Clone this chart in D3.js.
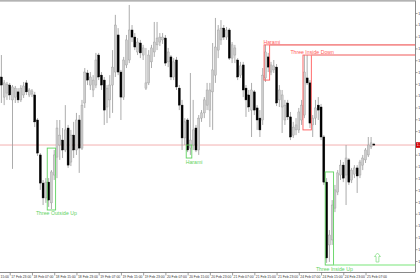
<!DOCTYPE html>
<html lang="en">
<head>
<meta charset="UTF-8" />
<title>EURUSD,H1</title>
<script src="https://cdn.jsdelivr.net/npm/d3@7"></script>
<style>
  body { margin: 0; background: #fff; }
  svg { display: block; font-family: "Liberation Sans", Arial, sans-serif; }
</style>
</head>
<body>
<script>

// hourly candles
var opens = [1.37379,1.37294,1.37311,1.37345,1.37282,1.37294,1.37316,1.37282,1.37303,1.37354,
  1.37303,1.37307,1.37303,1.37197,1.37049,1.36930,1.36867,1.36934,1.36846,1.36964,
  1.37040,1.37091,1.37112,1.37070,1.37163,1.37019,1.37133,1.37070,1.37197,1.37078,
  1.37269,1.37396,1.37345,1.37324,1.37345,1.37472,1.37387,1.37366,1.37252,1.37282,
  1.37345,1.37400,1.37557,1.37400,1.37294,1.37430,1.37451,1.37578,1.37548,1.37485,
  1.37523,1.37472,1.37332,1.37354,1.37443,1.37485,1.37515,1.37527,1.37536,1.37544,
  1.37443,1.37464,1.37379,1.37451,1.37332,1.37260,1.37121,1.37197,1.37078,1.37091,
  1.37163,1.37070,1.37205,1.37227,1.37260,1.37239,1.37316,1.37387,1.37493,1.37536,
  1.37586,1.37548,1.37578,1.37459,1.37472,1.37451,1.37387,1.37430,1.37332,1.37303,
  1.37239,1.37316,1.37248,1.37205,1.37197,1.37375,1.37464,1.37400,1.37409,1.37421,
  1.37282,1.37252,1.37197,1.37269,1.37210,1.37133,1.37155,1.37155,1.37197,1.37218,
  1.37375,1.37354,1.37176,1.37205,1.37260,1.37252,1.37125,1.36934,1.36668,1.36689,
  1.36824,1.36892,1.36964,1.37006,1.36964,1.37028,1.36943,1.36968,1.36994,1.36964,
  1.37006,1.37028,1.37049,1.37083,1.37095];
var highs = [1.37472,1.37366,1.37358,1.37354,1.37345,1.37341,1.37332,1.37345,1.37358,1.37366,
  1.37332,1.37328,1.37316,1.37205,1.37057,1.36943,1.36951,1.36951,1.36985,1.37070,
  1.37197,1.37197,1.37163,1.37260,1.37176,1.37155,1.37189,1.37227,1.37218,1.37282,
  1.37417,1.37409,1.37400,1.37387,1.37481,1.37481,1.37400,1.37379,1.37345,1.37387,
  1.37493,1.37642,1.37586,1.37409,1.37464,1.37557,1.37684,1.37599,1.37565,1.37544,
  1.37536,1.37515,1.37502,1.37493,1.37515,1.37612,1.37612,1.37565,1.37565,1.37557,
  1.37502,1.37472,1.37459,1.37464,1.37345,1.37282,1.37205,1.37205,1.37396,1.37282,
  1.37176,1.37218,1.37239,1.37294,1.37354,1.37354,1.37523,1.37629,1.37599,1.37620,
  1.37599,1.37591,1.37586,1.37527,1.37515,1.37459,1.37443,1.37443,1.37345,1.37324,
  1.37354,1.37324,1.37260,1.37239,1.37417,1.37515,1.37481,1.37443,1.37451,1.37434,
  1.37345,1.37324,1.37282,1.37282,1.37231,1.37189,1.37205,1.37248,1.37282,1.37472,
  1.37472,1.37366,1.37218,1.37282,1.37294,1.37265,1.37133,1.36951,1.36731,1.36858,
  1.36922,1.36985,1.37028,1.37019,1.37091,1.37036,1.36994,1.37006,1.37006,1.37028,
  1.37049,1.37078,1.37125,1.37125,1.37100];
var lows = [1.37269,1.37260,1.37282,1.37282,1.36990,1.37269,1.37269,1.37273,1.37290,1.37303,
  1.37294,1.37294,1.37167,1.37045,1.36901,1.36837,1.36846,1.36829,1.36820,1.36943,
  1.36951,1.37028,1.37036,1.37061,1.36994,1.37002,1.37036,1.37049,1.36973,1.37070,
  1.37248,1.37345,1.37324,1.37294,1.37332,1.37366,1.37324,1.37176,1.37184,1.37205,
  1.37227,1.37379,1.37387,1.37197,1.37282,1.37417,1.37438,1.37527,1.37493,1.37472,
  1.37459,1.37451,1.37324,1.37345,1.37417,1.37464,1.37493,1.37510,1.37519,1.37426,
  1.37421,1.37366,1.37366,1.37324,1.37239,1.37070,1.37091,1.37061,1.37049,1.37070,
  1.37061,1.37049,1.37189,1.37205,1.37239,1.37167,1.37155,1.37354,1.37459,1.37515,
  1.37536,1.37536,1.37451,1.37438,1.37438,1.37366,1.37375,1.37294,1.37210,1.37231,
  1.37125,1.37218,1.37155,1.37125,1.37176,1.37358,1.37400,1.37387,1.37396,1.37256,
  1.37252,1.37142,1.37176,1.37197,1.37112,1.37121,1.37133,1.37142,1.37176,1.37205,
  1.37345,1.37163,1.37125,1.37176,1.37197,1.37112,1.36922,1.36592,1.36596,1.36668,
  1.36807,1.36879,1.36943,1.36934,1.36837,1.36922,1.36930,1.36951,1.36888,1.36951,
  1.36985,1.37015,1.37040,1.37074,1.37087];
var closes = [1.37345,1.37354,1.37349,1.37303,1.37337,1.37332,1.37282,1.37332,1.37341,1.37316,
  1.37324,1.37320,1.37189,1.37057,1.36930,1.36867,1.36934,1.36858,1.36977,1.37049,
  1.37163,1.37133,1.37070,1.37155,1.37006,1.37133,1.37070,1.37197,1.37078,1.37260,
  1.37400,1.37366,1.37379,1.37366,1.37451,1.37379,1.37345,1.37239,1.37332,1.37345,
  1.37421,1.37599,1.37400,1.37294,1.37451,1.37536,1.37578,1.37548,1.37506,1.37527,
  1.37481,1.37502,1.37354,1.37472,1.37502,1.37527,1.37544,1.37548,1.37548,1.37438,
  1.37485,1.37379,1.37443,1.37337,1.37260,1.37121,1.37189,1.37070,1.37112,1.37155,
  1.37070,1.37205,1.37227,1.37282,1.37324,1.37324,1.37409,1.37506,1.37578,1.37586,
  1.37548,1.37578,1.37459,1.37515,1.37502,1.37379,1.37426,1.37324,1.37282,1.37252,
  1.37324,1.37239,1.37197,1.37155,1.37387,1.37485,1.37421,1.37430,1.37426,1.37269,
  1.37324,1.37303,1.37260,1.37210,1.37125,1.37167,1.37176,1.37231,1.37260,1.37400,
  1.37354,1.37184,1.37205,1.37248,1.37239,1.37125,1.36934,1.36613,1.36710,1.36837,
  1.36901,1.36973,1.37006,1.36951,1.37036,1.36934,1.36985,1.36994,1.36960,1.37019,
  1.37036,1.37070,1.37091,1.37100,1.37091];

var priceTicks = [1.3660,1.3665,1.3670,1.3675,1.3680,1.3685,1.3690,1.3695,1.3700,1.3705,1.3710,
  1.3715,1.3720,1.3725,1.3730,1.3735,1.3740,1.3745,1.3750,1.3755,1.3760,1.3765];
var timeBars = [-5,3,11,19,27,35,43,51,59,67,75,83,91,99,107,115,123,131];
var timeLabels = ["17 Feb 15:00","17 Feb 23:00","18 Feb 07:00","18 Feb 15:00","18 Feb 23:00",
  "19 Feb 07:00","19 Feb 15:00","19 Feb 23:00","20 Feb 07:00","20 Feb 15:00","20 Feb 23:00",
  "21 Feb 07:00","21 Feb 15:00","21 Feb 23:00","24 Feb 07:00","24 Feb 15:00","24 Feb 23:00",
  "25 Feb 07:00"];

// candle patterns found by the indicator
var patternNames = ["Three Outside Up","Harami","Harami","Three Inside Down","Three Inside Up"];
var patternFrom = [17, 67, 95, 109, 117];
var patternTo = [19, 68, 96, 111, 119];
var patternTop = [1.37078, 1.37091, 1.37515, 1.37472, 1.36977];
var patternBottom = [1.36816, 1.37036, 1.37366, 1.37155, 1.36583];
var patternBull = [true, true, false, false, true];
var patternOpen = [false, false, true, true, true];

var lastPrice = 1.37091;

var W = 420, H = 280, right = 415, bottom = 272;
var green = "#5fd35f", red = "#ff5c5c";

var svg = d3.select("body").append("svg").attr("width", W).attr("height", H);

var x = d3.scaleLinear().domain([-0.5, 148.8]).range([0, right]);
var y = d3.scaleLinear().domain([1.3765, 1.3660]).range([13, 261]);

svg.append("clipPath").attr("id", "plot")
  .append("rect").attr("x", 0).attr("y", 1).attr("width", right).attr("height", bottom - 1);
var g = svg.append("g").attr("clip-path", "url(#plot)");

var bars = opens.map(function(o, i) {
  return { i: i, o: o, h: highs[i], l: lows[i], c: closes[i] };
});

// bid line
g.append("line")
  .attr("x1", 0).attr("x2", right)
  .attr("y1", y(lastPrice)).attr("y2", y(lastPrice))
  .attr("stroke", "#f3b1b1").attr("stroke-width", 1);

// wicks
g.selectAll("line.wick").data(bars).enter().append("line")
  .attr("class", "wick")
  .attr("x1", function(d) { return x(d.i); })
  .attr("x2", function(d) { return x(d.i); })
  .attr("y1", function(d) { return y(d.h); })
  .attr("y2", function(d) { return y(d.l); })
  .attr("stroke", "#a3a3a3").attr("stroke-width", 0.9);

// bodies
g.selectAll("rect.body").data(bars).enter().append("rect")
  .attr("class", "body")
  .attr("x", function(d) { return x(d.i) - 1; })
  .attr("width", 2)
  .attr("y", function(d) { return y(Math.max(d.o, d.c)); })
  .attr("height", function(d) { return Math.max(Math.abs(y(d.o) - y(d.c)), 0.8); })
  .attr("fill", function(d) { return d.c >= d.o ? "#cdcdcd" : "#000"; })
  .attr("stroke", function(d) { return d.c >= d.o ? "#9a9a9a" : "#000"; })
  .attr("stroke-width", 0.4);

// pattern boxes, extension lines and names
patternNames.forEach(function(name, k) {
  var col = patternBull[k] ? green : red;
  var x0 = x(patternFrom[k]) - 1.4, x1 = x(patternTo[k]) + 1.4;
  var yt = y(patternTop[k]), yb = y(patternBottom[k]);
  g.append("rect")
    .attr("x", x0).attr("y", yt).attr("width", x1 - x0).attr("height", yb - yt)
    .attr("fill", "none").attr("stroke", col).attr("stroke-width", 0.9);
  if (patternOpen[k]) {
    var ly = patternBull[k] ? yb : yt;
    g.append("line")
      .attr("x1", x1).attr("x2", right).attr("y1", ly).attr("y2", ly)
      .attr("stroke", patternBull[k] ? "#a6eea6" : "#f59090").attr("stroke-width", 1.6);
  }
  svg.append("text")
    .attr("x", (x0 + x1) / 2 + 5)
    .attr("y", patternBull[k] ? yb + 5.5 : yt - 1)
    .attr("text-anchor", "middle")
    .attr("font-size", 5.2)
    .attr("fill", col)
    .text(name);
});

// signal arrow after the last bar
var ax = x(135.3), ay = y(patternBottom[4]) - 12;
g.append("path")
  .attr("d", "M" + ax + "," + ay + " l3,3.5 h-1.6 v5.5 h-2.8 v-5.5 h-1.6 z")
  .attr("fill", "#fff").attr("stroke", "#8be08b").attr("stroke-width", 0.8);

// frame
svg.append("line").attr("x1", 0).attr("x2", right + 0.5).attr("y1", 0.8).attr("y2", 0.8)
  .attr("stroke", "#9a9a9a").attr("stroke-width", 1.2);
svg.append("line").attr("x1", right + 0.5).attr("x2", right + 0.5).attr("y1", 0.5).attr("y2", bottom)
  .attr("stroke", "#8a8a8a").attr("stroke-width", 1);
svg.append("line").attr("x1", 0).attr("x2", right + 0.5).attr("y1", bottom + 0.5).attr("y2", bottom + 0.5)
  .attr("stroke", "#8a8a8a").attr("stroke-width", 1);

// price axis; the label under the price tag is left out, as the terminal does
var yAxis = svg.append("g")
  .attr("transform", "translate(" + (right + 0.5) + ",0)")
  .call(d3.axisRight(y).tickValues(priceTicks).tickSize(2).tickPadding(0.8)
    .tickFormat(function(d) {
      return Math.abs(y(d) - y(lastPrice)) < 5 ? "" : d3.format(".4f")(d);
    }));
yAxis.select(".domain").remove();
yAxis.selectAll("line").attr("stroke", "#777").attr("stroke-width", 0.7);
yAxis.selectAll("text").attr("font-size", 3.6).attr("fill", "#333")
  .attr("font-family", "Liberation Sans, Arial, sans-serif");

// current price tag
svg.append("rect")
  .attr("x", right + 1).attr("y", y(lastPrice) - 2.8).attr("width", 6).attr("height", 5.6)
  .attr("fill", "#d40000");
svg.append("text")
  .attr("x", right + 1.8).attr("y", y(lastPrice) + 1.3)
  .attr("font-size", 3.6).attr("fill", "#fff")
  .text(d3.format(".4f")(lastPrice));

// time axis
var xAxis = svg.append("g")
  .attr("transform", "translate(0," + (bottom + 0.5) + ")")
  .call(d3.axisBottom(x).tickValues(timeBars).tickSize(3).tickPadding(0)
    .tickFormat(function(d, k) { return timeLabels[k]; }));
xAxis.select(".domain").remove();
xAxis.selectAll("line").attr("stroke", "#777").attr("stroke-width", 0.7);
xAxis.selectAll("text")
  .attr("text-anchor", "start").attr("dx", 1).attr("dy", 0).attr("y", 5.6)
  .attr("font-size", 3.4).attr("fill", "#333")
  .attr("font-family", "Liberation Sans, Arial, sans-serif");

</script>
</body>
</html>
